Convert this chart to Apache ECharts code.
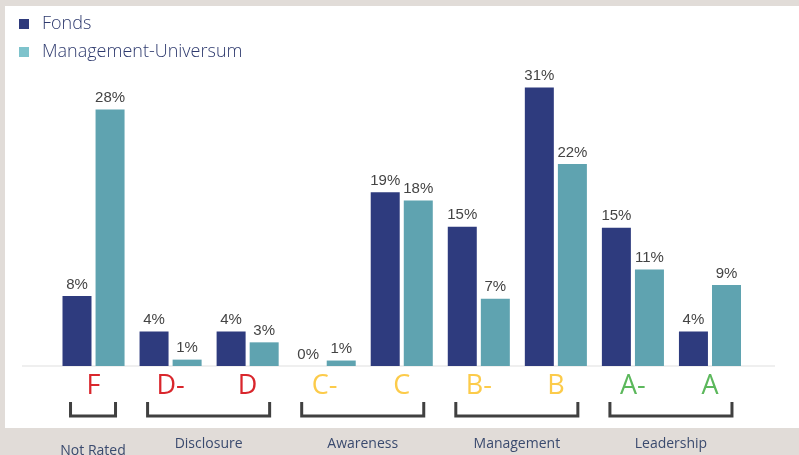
<!DOCTYPE html>
<html>
<head>
<meta charset="utf-8">
<script src="https://cdn.jsdelivr.net/npm/echarts@6/dist/echarts.min.js"></script>
<style>
  html, body { margin: 0; padding: 0; background: #e1dcd8; }
  #chart { width: 799px; height: 455px; }
</style>
</head>
<body>
<div id="chart"></div>
<script>
// ESG-Ratings: Fonds vs. Management-Universum (Anteil in %)
const grades = ['F', 'D-', 'D', 'C-', 'C', 'B-', 'B', 'A-', 'A']
const fondsValues = [7.7, 3.8, 3.8, 0, 19.1, 15.3, 30.6, 15.2, 3.8]
const universeValues = [28.2, 0.7, 2.6, 0.6, 18.2, 7.4, 22.2, 10.6, 8.9]

// Gruppen unter den Ratings
const groupNames = ['Not Rated', 'Disclosure', 'Awareness', 'Management', 'Leadership']
const groupFrom = [0, 1, 3, 5, 7]
const groupTo = [0, 2, 4, 6, 8]

// Farbe je Rating-Buchstabe
const gradeColor = (g) => {
  const c = g.charAt(0)
  if (c === 'F' || c === 'D') return '#d9262c'
  if (c === 'C' || c === 'B') return '#fccb4a'
  return '#5cb85c'
}

const chart = echarts.init(document.getElementById('chart'))

const labelStyle = {
  show: true,
  position: 'top',
  distance: 4,
  color: '#444',
  fontSize: 15,
  fontFamily: 'Liberation Sans, Arial, sans-serif',
  formatter: (p) => Math.round(p.value) + '%'
}

const option = {
  animation: false,
  backgroundColor: '#e1dcd8',
  graphic: [
    {
      type: 'rect',
      left: 5,
      top: 6,
      shape: { width: 794, height: 422 },
      style: { fill: '#ffffff' },
      z: -10
    },
    {
      type: 'line',
      shape: { x1: 22, y1: 366, x2: 775, y2: 366 },
      style: { stroke: '#efefef', lineWidth: 2 },
      z: -5
    }
  ],
  legend: {
    orient: 'vertical',
    left: 14,
    top: 9,
    itemWidth: 10,
    itemHeight: 10,
    itemGap: 8,
    icon: 'rect',
    textStyle: {
      color: '#2e3a6e',
      fontSize: 18,
      fontWeight: 300,
      fontFamily: 'Open Sans, sans-serif',
      lineHeight: 20,
      padding: [0, 0, 0, 8]
    },
    data: [
      { name: 'Fonds', itemStyle: { color: '#2e3a7c' } },
      { name: 'Management-Universum', itemStyle: { color: '#7ec3cc' } }
    ]
  },
  grid: {
    left: 55,
    right: 50.5,
    top: 47.5,
    bottom: 89
  },
  xAxis: {
    type: 'category',
    data: grades.map(g => ({ value: g, textStyle: { color: gradeColor(g) } })),
    axisLine: { show: false },
    axisTick: { show: false },
    axisLabel: {
      margin: 7,
      fontSize: 27,
      fontFamily: 'Open Sans, sans-serif'
    }
  },
  yAxis: {
    type: 'value',
    min: 0,
    max: 35,
    show: false
  },
  series: [
    {
      name: 'Fonds',
      type: 'bar',
      data: fondsValues,
      barWidth: 29,
      barGap: '14%',
      itemStyle: { color: '#2e3b7e' },
      label: labelStyle
    },
    {
      name: 'Management-Universum',
      type: 'bar',
      data: universeValues,
      barWidth: 29,
      itemStyle: { color: '#5fa3b0' },
      label: labelStyle
    },
    {
      type: 'custom',
      silent: true,
      clip: false,
      encode: { x: 0, y: 1 },
      data: groupFrom.map((f, i) => [f, 0, groupTo[i]]),
      renderItem: (params, api) => {
        const a = api.coord([api.value(0), 0])
        const b = api.coord([api.value(2), 0])
        const x0 = a[0] - 23
        const x1 = b[0] + 22
        const y0 = a[1] + 36
        const y1 = a[1] + 50
        // "Not Rated" sitzt etwas tiefer
        const ty = a[1] + 78 + (params.dataIndex === 0 ? 7 : 0)
        return {
          type: 'group',
          children: [
            {
              type: 'polyline',
              shape: { points: [[x0, y0], [x0, y1], [x1, y1], [x1, y0]] },
              style: { stroke: '#404040', lineWidth: 3, fill: null }
            },
            {
              type: 'text',
              style: {
                text: groupNames[params.dataIndex],
                x: (x0 + x1) / 2,
                y: ty,
                align: 'center',
                verticalAlign: 'middle',
                fill: '#3a4a6e',
                fontSize: 14,
                fontFamily: 'Open Sans, sans-serif'
              }
            }
          ]
        }
      }
    }
  ]
}

chart.setOption(option)
</script>
</body>
</html>
